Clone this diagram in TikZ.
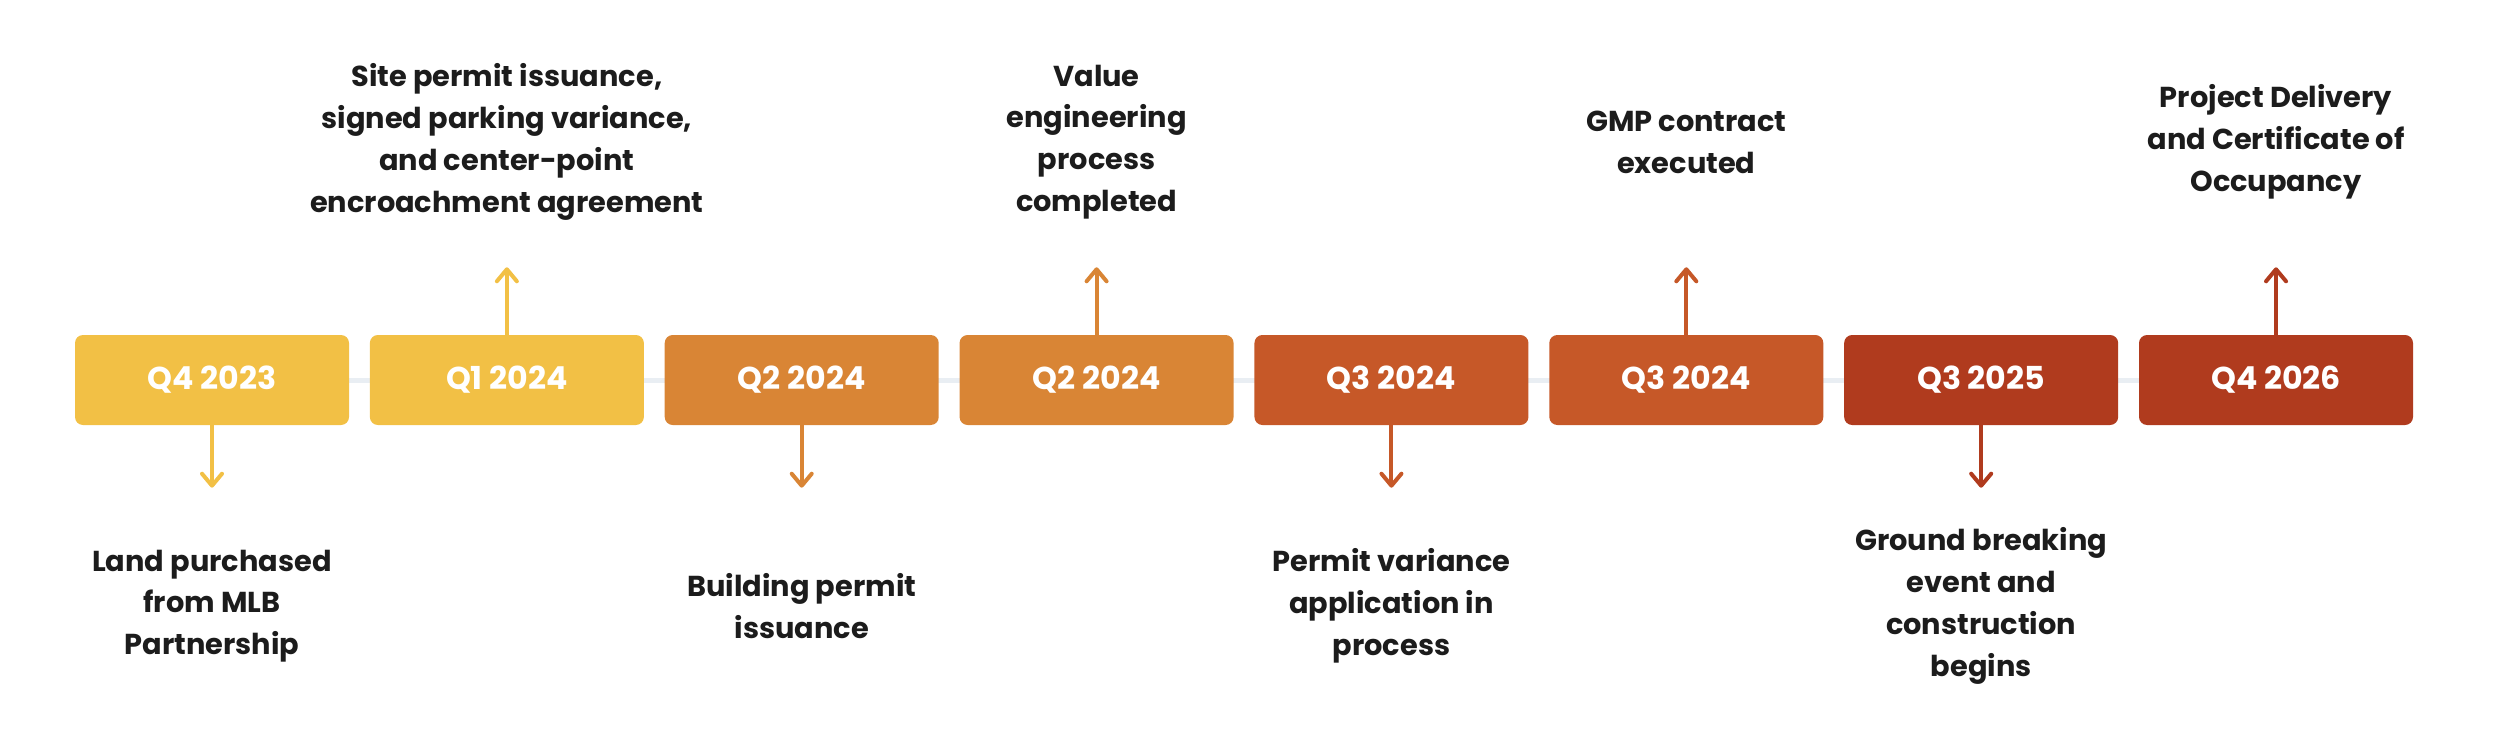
\documentclass[tikz,border=0pt]{standalone}
\usepackage{fontspec}
\setmainfont{Poppins}
\usetikzlibrary{arrows.meta,backgrounds}
\definecolor{gold}{HTML}{F2C045}
\definecolor{amber}{HTML}{D98535}
\definecolor{rust}{HTML}{C65828}
\definecolor{brick}{HTML}{B03B1E}
\definecolor{track}{HTML}{E9EEF3}
\definecolor{ink}{HTML}{1C1C1C}
\tikzset{
  qbox/.style={rounded corners=0.08cm, minimum width=2.74cm, minimum height=0.9cm,
    inner sep=0pt, text=white, font=\bfseries\fontsize{9}{11}\selectfont},
  note/.style={align=center, text=ink, font=\bfseries\fontsize{8.2}{11.9}\selectfont},
  tick/.style={line width=0.4mm, line cap=round,
    -{Straight Barb[length=1.2mm, width=2mm, round]}}
}
\begin{document}
\begin{tikzpicture}
\useasboundingbox (0,0) rectangle (25,7.5);
\coordinate (top) at (0,6.08);
\coordinate (bot) at (0,1.44);
% quarter boxes
\foreach \i/\c/\q in {1/gold/Q4 2023, 2/gold/Q1 2024, 3/amber/Q2 2024, 4/amber/Q2 2024,
                      5/rust/Q3 2024, 6/rust/Q3 2024, 7/brick/Q3 2025, 8/brick/Q4 2026}
  \node[qbox, fill=\c] (q\i) at ({2.12+2.9486*(\i-1)},3.70) {\q};
\begin{scope}[on background layer]
  \draw[track, line width=0.5mm] (q1.center) -- (q8.center);
\end{scope}
% arrows, down for odd and up for even
\foreach \i/\c in {1/gold, 3/amber, 5/rust, 7/brick} {
  \coordinate (t\i) at ([yshift=-0.62cm]q\i.south);
  \draw[tick, \c] (q\i.south) -- (t\i);
}
\foreach \i/\c in {2/gold, 4/amber, 6/rust, 8/brick} {
  \coordinate (t\i) at ([yshift=0.67cm]q\i.north);
  \draw[tick, \c] (q\i.north) -- (t\i);
}
% milestones
\node[note] (n1) at (q1 |- bot) {Land purchased\\from MLB\\Partnership};
\node[note] (n2) at (q2 |- top) {Site permit issuance,\\signed parking variance,\\and center-point\\encroachment agreement};
\node[note] (n3) at (q3 |- bot) {Building permit\\issuance};
\node[note] (n4) at (q4 |- top) {Value\\engineering\\process\\completed};
\node[note] (n5) at (q5 |- bot) {Permit variance\\application in\\process};
\node[note] (n6) at (q6 |- top) {GMP contract\\executed};
\node[note] (n7) at (q7 |- bot) {Ground breaking\\event and\\construction\\begins};
\node[note] (n8) at (q8 |- top) {Project Delivery\\and Certificate of\\Occupancy};
\end{tikzpicture}
\end{document}
